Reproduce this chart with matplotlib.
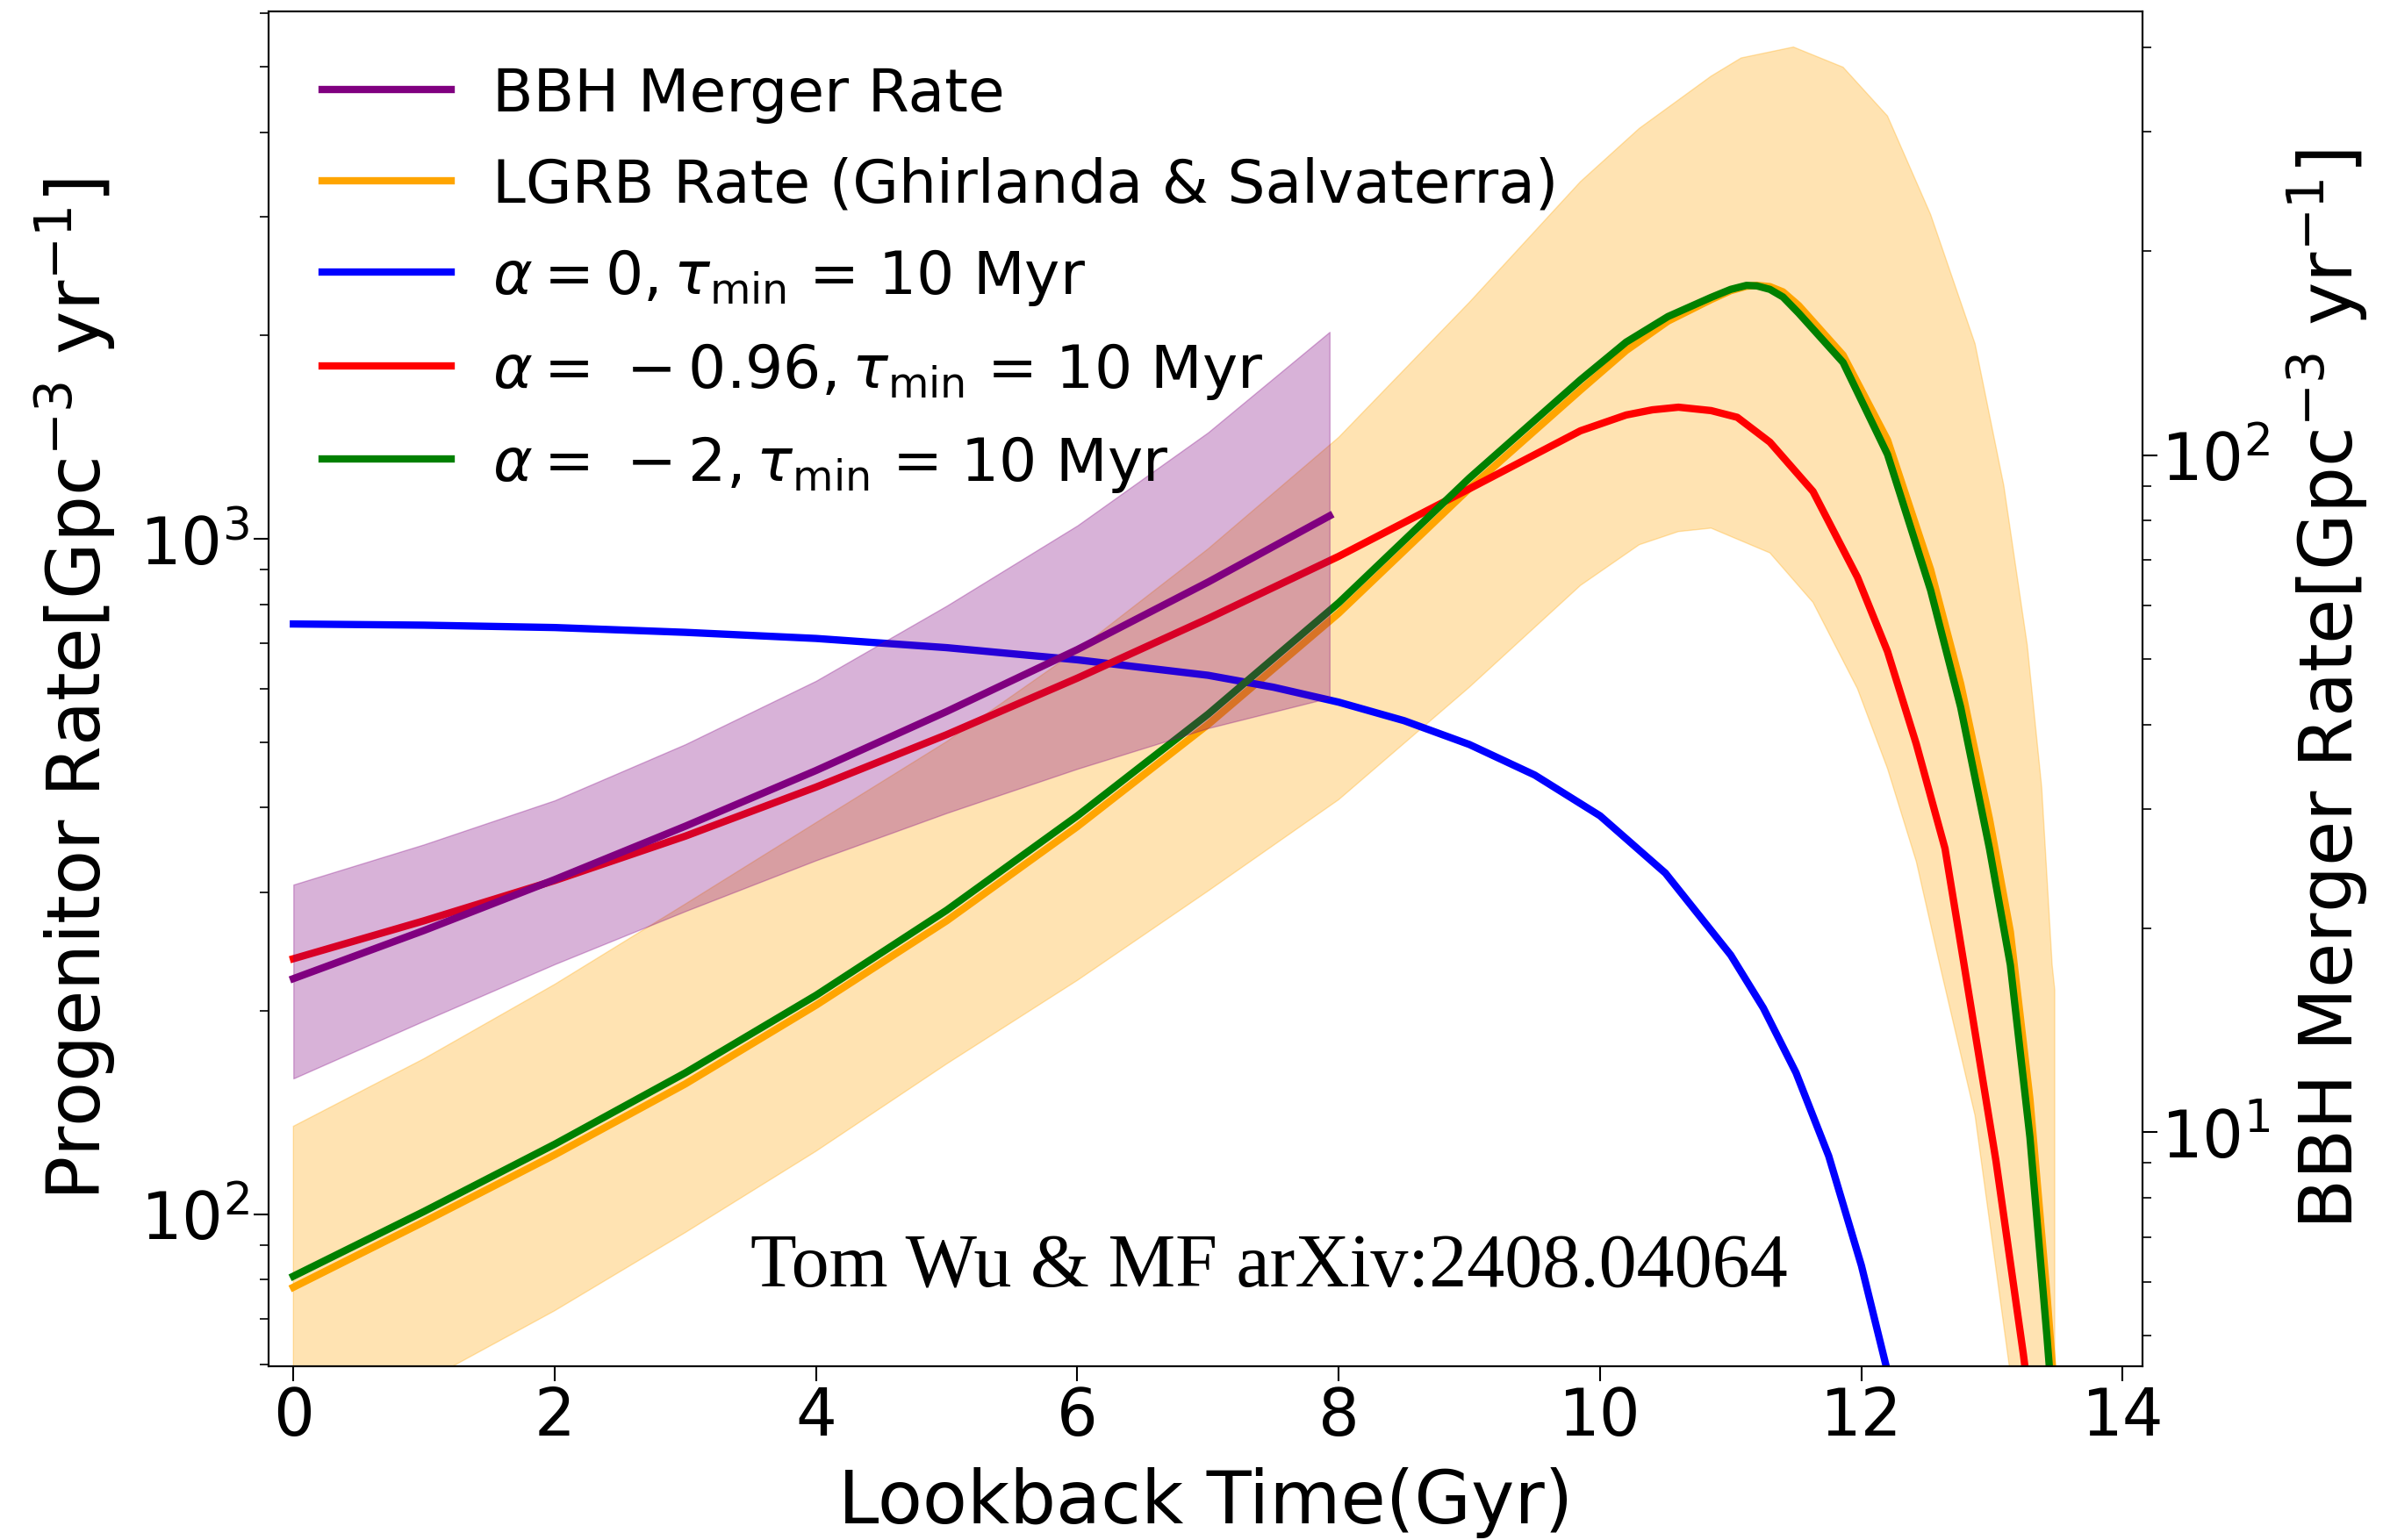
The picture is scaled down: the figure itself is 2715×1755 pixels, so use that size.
import numpy as np
import matplotlib.pyplot as plt

# lookback time (Gyr) and rates (Gpc^-3 yr^-1)

# BBH merger rate (right axis)
t_bbh = [0, 1, 2, 3, 4, 5, 6, 7, 7.93]
bbh = [16.85, 19.85, 23.6, 28.3, 34.2, 41.8, 51.6, 64.9, 81.3]
bbh_hi = [23.2, 26.6, 30.9, 37.4, 46.4, 59.9, 78.7, 108, 152]
bbh_lo = [12.0, 14.6, 17.7, 21.2, 25.2, 29.6, 34.4, 39.5, 43.8]

# LGRB rate (Ghirlanda & Salvaterra), left axis
t_lgrb = [0, 1, 2, 3, 4, 5, 6, 7, 8, 9, 9.85, 10.2, 10.52, 10.85, 11.0, 11.12, 11.2,
          11.3, 11.4, 11.52, 11.86, 12.2, 12.53, 12.76, 12.98, 13.14, 13.29, 13.42, 13.5]
lgrb = [78, 97.5, 122.5, 156, 204, 272, 375, 531, 776, 1187, 1660, 1900, 2100, 2260,
        2330, 2365, 2372, 2362, 2320, 2215, 1870, 1400, 900, 610, 385, 262, 148, 76, 48]

t_lgrb_hi = [0, 1, 2, 3, 4, 5, 6, 7, 8, 9, 9.85, 10.3, 10.85, 11.08, 11.48, 11.86,
             12.2, 12.53, 12.87, 13.09, 13.27, 13.38, 13.46, 13.48]
lgrb_hi = [135, 170, 219, 288, 380, 501, 684, 966, 1413, 2239, 3378, 4050, 4840, 5150,
           5345, 4990, 4225, 3020, 1944, 1199, 695, 429, 234, 215]
t_lgrb_lo = [0, 1, 1.22, 2, 3, 4, 5, 6, 7, 8, 9, 9.85, 10.3, 10.6, 10.85, 11.3, 11.63,
             11.97, 12.2, 12.42, 12.6, 12.87, 13.13, 13.3, 13.48]
lgrb_lo = [44, 56, 59.6, 72, 94, 124, 167, 222, 301, 411, 603, 853, 980, 1025, 1037,
           953, 805, 600, 457, 333, 234, 140, 60, 36, 20]

# delay-time models, tau_min = 10 Myr
t_a0 = [0, 1, 2, 3, 4, 5, 6, 7, 7.5, 8, 8.5, 9, 9.5, 10, 10.5, 11, 11.25, 11.5,
        11.75, 12, 12.2, 12.35]
rate_a0 = [748, 745, 739, 727, 712, 690, 662, 628, 603, 573, 538, 496, 447, 389, 320,
           242, 202, 162, 122, 84, 58.5, 43]

t_a096 = [0, 1, 2, 3, 4, 5, 6, 7, 8, 9, 9.85, 10.2, 10.4, 10.6, 10.85, 11.05, 11.3,
          11.63, 11.97, 12.2, 12.42, 12.64, 12.78, 13.03, 13.24, 13.35]
rate_a096 = [239, 272, 312, 363, 429, 513, 622, 762, 942, 1186, 1445, 1525, 1552, 1566,
             1548, 1513, 1390, 1175, 877, 681, 497, 348, 238, 120, 62, 42]

t_a2 = t_lgrb
rate_a2 = [81, 101, 127, 162, 211, 282, 389, 550, 804, 1230, 1719, 1955, 2133, 2277,
           2340, 2372, 2368, 2340, 2280, 2158, 1824, 1333, 839, 563, 348, 234, 130, 66, 42]

fig = plt.figure(figsize=(27.15, 17.56), dpi=100)
ax = fig.add_axes([0.1127, 0.1128, 0.7863, 0.8792])
ax2 = ax.twinx()

lw = 6
band_t = np.concatenate([t_lgrb_hi, t_lgrb_lo[::-1]])
band_y = np.concatenate([lgrb_hi, lgrb_lo[::-1]])
ax.fill(band_t, band_y, color='orange', alpha=0.3)
l_lgrb, = ax.plot(t_lgrb, lgrb, color='orange', lw=lw)
l_a0, = ax.plot(t_a0, rate_a0, color='blue', lw=lw)
l_a096, = ax.plot(t_a096, rate_a096, color='red', lw=lw)
l_a2, = ax.plot(t_a2, rate_a2, color='green', lw=lw)

ax2.fill_between(t_bbh, bbh_lo, bbh_hi, color='purple', alpha=0.3)
l_bbh, = ax2.plot(t_bbh, bbh, color='purple', lw=lw)

ax.set_yscale('log')
ax2.set_yscale('log')
ax.set_xlim(-0.19, 14.15)
ax.set_ylim(59.6, 6034)
ax2.set_ylim(4.51, 452)
ax.set_xticks([0, 2, 4, 6, 8, 10, 12, 14])

ax.set_xlabel('Lookback Time(Gyr)', fontsize=60, labelpad=14)
ax.set_ylabel(r'Progenitor Rate[Gpc$^{-3}$ yr$^{-1}$]', fontsize=60, labelpad=18)
ax2.set_ylabel(r'BBH Merger Rate[Gpc$^{-3}$ yr$^{-1}$]', fontsize=60, labelpad=12)

for a in (ax, ax2):
    a.tick_params(which='major', labelsize=53, length=12, width=1.5)
    a.tick_params(which='minor', length=7, width=1.2)
    for s in a.spines.values():
        s.set_linewidth(1.5)

handles = [l_bbh, l_lgrb, l_a0, l_a096, l_a2]
labels = ['BBH Merger Rate',
          'LGRB Rate (Ghirlanda & Salvaterra)',
          r'$\alpha = 0, \tau_{\rm min}$ = 10 Myr',
          r'$\alpha = \,-0.96, \tau_{\rm min}$ = 10 Myr',
          r'$\alpha = \,-2, \tau_{\rm min}$ = 10 Myr']
ax2.legend(handles, labels, loc='upper left', frameon=False, fontsize=49,
           handlelength=2.15, handletextpad=0.7, labelspacing=0.55)

ax.text(0.534, 0.0725, 'Tom Wu & MF arXiv:2408.04064', transform=ax.transAxes,
        fontsize=62, family='Liberation Serif', ha='center', va='center')

fig.savefig('out.png', dpi=100)
